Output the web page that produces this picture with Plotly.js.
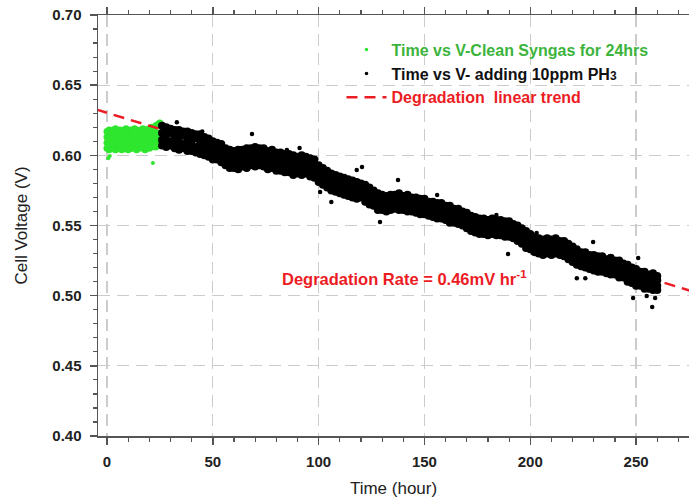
<!DOCTYPE html>
<html>
<head>
<meta charset="utf-8">
<script src="https://cdn.plot.ly/plotly-3.0.1.min.js"></script>
<style>html,body{margin:0;padding:0;background:#fff;}#chart{width:689px;height:502px;}</style>
</head>
<body>
<div id="chart"></div>
<script>
// ---- Clean syngas period (green), hours 0..26, four readings of the cloud per hour ----
const greenT = [0,1,2,3,4,5,6,7,8,9,10,11,12,13,14,15,16,17,18,19,20,21,22,23,24,25,26];
const greenLo  = [0.605,0.604,0.606,0.605,0.604,0.606,0.605,0.604,0.605,0.606,0.604,0.605,0.605,0.606,0.604,0.605,0.606,0.605,0.604,0.606,0.605,0.606,0.607,0.606,0.607,0.608,0.609];
const greenMlo = [0.609,0.610,0.608,0.609,0.610,0.609,0.608,0.610,0.609,0.609,0.610,0.608,0.609,0.610,0.609,0.608,0.609,0.610,0.609,0.609,0.610,0.610,0.611,0.610,0.611,0.612,0.612];
const greenMhi = [0.613,0.612,0.614,0.613,0.612,0.614,0.613,0.612,0.613,0.614,0.613,0.612,0.614,0.613,0.612,0.613,0.614,0.613,0.612,0.614,0.614,0.615,0.614,0.615,0.616,0.615,0.616];
const greenHi  = [0.617,0.618,0.616,0.618,0.619,0.617,0.618,0.616,0.618,0.619,0.617,0.618,0.617,0.619,0.618,0.617,0.618,0.619,0.617,0.618,0.619,0.620,0.619,0.621,0.622,0.623,0.621];
const greenOutT = [0.6, 1.3, 21.7, 24.5];
const greenOutV = [0.598, 0.5995, 0.5945, 0.624];

// ---- PH3 period (black), hours 26..260 every 2 h, four readings of the cloud ----
const blackT = [26,28,30,32,34,36,38,40,42,44,46,48,50,52,54,56,58,60,62,64,66,68,70,72,74,76,78,80,82,84,86,88,90,92,94,96,98,100,102,104,106,108,110,112,114,116,118,120,122,124,126,128,130,132,134,136,138,140,142,144,146,148,150,152,154,156,158,160,162,164,166,168,170,172,174,176,178,180,182,184,186,188,190,192,194,196,198,200,202,204,206,208,210,212,214,216,218,220,222,224,226,228,230,232,234,236,238,240,242,244,246,248,250,252,254,256,258,260];
const blackHi = [0.621,0.620,0.619,0.618,0.618,0.617,0.617,0.616,0.615,0.615,0.613,0.612,0.610,0.609,0.608,0.605,0.604,0.603,0.604,0.604,0.605,0.605,0.606,0.605,0.605,0.603,0.604,0.602,0.602,0.601,0.601,0.600,0.599,0.600,0.599,0.598,0.597,0.593,0.591,0.589,0.587,0.586,0.585,0.584,0.583,0.582,0.581,0.580,0.579,0.577,0.575,0.573,0.572,0.571,0.572,0.572,0.573,0.571,0.572,0.570,0.570,0.569,0.569,0.567,0.567,0.566,0.566,0.564,0.564,0.562,0.562,0.560,0.559,0.557,0.556,0.555,0.555,0.554,0.555,0.554,0.554,0.553,0.553,0.551,0.550,0.548,0.546,0.544,0.542,0.541,0.540,0.541,0.540,0.541,0.539,0.539,0.537,0.535,0.533,0.531,0.531,0.529,0.529,0.528,0.528,0.526,0.527,0.525,0.525,0.523,0.522,0.520,0.519,0.517,0.517,0.515,0.516,0.514];
const blackMhi = [0.616,0.615,0.616,0.614,0.613,0.614,0.612,0.611,0.612,0.610,0.609,0.607,0.606,0.605,0.603,0.601,0.600,0.599,0.599,0.600,0.600,0.601,0.601,0.601,0.600,0.599,0.599,0.598,0.597,0.597,0.596,0.595,0.595,0.595,0.595,0.594,0.592,0.589,0.587,0.585,0.583,0.582,0.581,0.580,0.579,0.578,0.577,0.577,0.575,0.573,0.571,0.569,0.568,0.568,0.568,0.569,0.569,0.568,0.568,0.567,0.566,0.566,0.565,0.564,0.563,0.563,0.562,0.561,0.560,0.559,0.558,0.557,0.555,0.553,0.552,0.552,0.551,0.551,0.551,0.551,0.550,0.550,0.549,0.548,0.546,0.544,0.542,0.540,0.538,0.537,0.537,0.537,0.537,0.537,0.536,0.535,0.533,0.531,0.529,0.528,0.527,0.526,0.525,0.525,0.524,0.523,0.523,0.522,0.521,0.520,0.518,0.516,0.515,0.514,0.513,0.512,0.512,0.511];
const blackMlo = [0.611,0.611,0.610,0.610,0.609,0.608,0.608,0.607,0.606,0.606,0.605,0.603,0.602,0.601,0.599,0.597,0.596,0.595,0.595,0.596,0.596,0.597,0.597,0.597,0.596,0.595,0.595,0.594,0.593,0.593,0.592,0.591,0.591,0.591,0.591,0.590,0.588,0.585,0.583,0.581,0.579,0.578,0.577,0.576,0.575,0.574,0.573,0.573,0.571,0.569,0.567,0.565,0.564,0.564,0.564,0.565,0.565,0.564,0.564,0.563,0.562,0.562,0.561,0.560,0.559,0.559,0.558,0.557,0.556,0.555,0.554,0.553,0.551,0.549,0.548,0.548,0.547,0.547,0.547,0.547,0.546,0.546,0.545,0.544,0.542,0.540,0.538,0.536,0.534,0.533,0.533,0.533,0.533,0.533,0.532,0.531,0.529,0.527,0.525,0.524,0.523,0.522,0.521,0.521,0.520,0.519,0.519,0.518,0.517,0.516,0.514,0.512,0.511,0.510,0.509,0.508,0.508,0.507];
const blackLo = [0.607,0.606,0.607,0.605,0.604,0.605,0.603,0.603,0.602,0.601,0.600,0.599,0.597,0.597,0.595,0.593,0.591,0.591,0.590,0.592,0.591,0.593,0.592,0.593,0.592,0.590,0.591,0.589,0.589,0.588,0.588,0.586,0.587,0.586,0.587,0.585,0.584,0.581,0.579,0.577,0.575,0.574,0.573,0.572,0.571,0.570,0.569,0.570,0.567,0.565,0.564,0.561,0.561,0.560,0.561,0.562,0.561,0.561,0.560,0.560,0.559,0.558,0.558,0.557,0.556,0.555,0.555,0.554,0.552,0.552,0.551,0.550,0.548,0.546,0.545,0.544,0.544,0.543,0.544,0.543,0.543,0.542,0.542,0.541,0.539,0.537,0.534,0.533,0.531,0.530,0.529,0.530,0.529,0.530,0.529,0.528,0.526,0.524,0.522,0.521,0.520,0.519,0.518,0.517,0.517,0.516,0.515,0.515,0.513,0.513,0.510,0.509,0.507,0.507,0.505,0.505,0.504,0.504];
const blackOutT = [33,45,68.5,85,91,100.7,106,118,120.5,129,137.5,156,184,189.5,203,222,226,229.7,248.6,251,255,257.6,259];
const blackOutV = [0.6235,0.617,0.6152,0.6038,0.6052,0.5738,0.5667,0.5895,0.5917,0.5525,0.5824,0.5717,0.5575,0.5297,0.5446,0.5125,0.5125,0.5382,0.4983,0.5268,0.4997,0.4919,0.4983];

// ---- Linear degradation trend ----
const trendSlope = -0.00046;   // V per hour (0.46 mV/hr)
const trendIntercept = 0.6303; // V at t = 0
const trendT = [-5, 280];

// ---- Text ----
const xTicks = [0, 50, 100, 150, 200, 250];
const yTicks = [0.40, 0.45, 0.50, 0.55, 0.60, 0.65, 0.70];
const nameGreen = 'Time vs V-Clean Syngas for 24hrs';
const nameBlack = 'Time vs V- adding 10ppm PH';
const nameTrend = 'Degradation&nbsp;&nbsp;linear trend';
const rateText = 'Degradation Rate = 0.46mV hr<sup>-1</sup>';

const GREEN = '#2ee62e', GREEN_TXT = '#3cb43c', RED = '#ec1c24';
const FONT = 'Liberation Sans, Arial, sans-serif';

function rows(t, arrs) { let x = [], y = []; arrs.forEach(a => { x = x.concat(t); y = y.concat(a); }); return {x, y}; }
const g = rows(greenT, [greenLo, greenMlo, greenMhi, greenHi]);
const b = rows(blackT, [blackLo, blackMlo, blackMhi, blackHi]);

const traces = [
  { x: g.x, y: g.y, mode: 'markers', type: 'scatter',
    marker: {color: GREEN, size: 7}, showlegend: false },
  { x: greenOutT, y: greenOutV, mode: 'markers', type: 'scatter',
    marker: {color: GREEN, size: 4}, showlegend: false },
  { x: trendT, y: trendT.map(t => trendIntercept + trendSlope * t), mode: 'lines',
    line: {color: RED, width: 2.5, dash: '11px,7px'}, showlegend: false, hoverinfo: 'skip' },
  { x: b.x, y: b.y, mode: 'markers', type: 'scatter',
    marker: {color: '#000', size: 8}, showlegend: false },
  { x: blackOutT, y: blackOutV, mode: 'markers', type: 'scatter',
    marker: {color: '#000', size: 4.5}, showlegend: false },
  { x: [null], y: [null], mode: 'markers', marker: {color: GREEN, size: 3.5},
    name: '<span style="color:' + GREEN_TXT + '">' + nameGreen + '</span>' },
  { x: [null], y: [null], mode: 'markers', marker: {color: '#000', size: 3.5},
    name: '<span style="color:#111">' + nameBlack + '<span style="font-size:12px">3</span></span>' },
  { x: [null], y: [null], mode: 'lines', line: {color: RED, width: 2.5, dash: '11px,7px'},
    name: '<span style="color:' + RED + '">' + nameTrend + '</span>' }
];

const axisCommon = {
  showline: true, linecolor: '#555', linewidth: 1.5,
  ticks: 'outside', ticklen: 7, tickwidth: 1.5, tickcolor: '#555',
  showgrid: true, gridcolor: '#cccccc', gridwidth: 1.3, griddash: '12px,7px',
  zeroline: false,
  tickfont: {family: FONT, size: 15, weight: 'bold', color: '#222'}
};

const layout = {
  width: 689, height: 502,
  margin: {l: 98, r: 0, t: 15, b: 66},
  paper_bgcolor: '#fff', plot_bgcolor: '#fff',
  font: {family: FONT, color: '#222'},
  xaxis: Object.assign({}, axisCommon, {
    range: [-4.25, 275], tickvals: xTicks, ticktext: xTicks.map(String),
    mirror: 'ticks', ticklabelstandoff: 4,
    minor: {dtick: 10, tick0: 0, ticks: 'outside', ticklen: 4, tickwidth: 1.2, tickcolor: '#555', showgrid: false},
    title: {text: 'Time (hour)', font: {family: FONT, size: 17, color: '#222'}, standoff: 13}
  }),
  yaxis: Object.assign({}, axisCommon, {
    range: [0.40, 0.70], tickvals: yTicks, ticktext: yTicks.map(v => v.toFixed(2)),
    ticklabelstandoff: 5,
    minor: {dtick: 0.01, tick0: 0.40, ticks: 'outside', ticklen: 4, tickwidth: 1.2, tickcolor: '#555', showgrid: false},
    title: {text: 'Cell Voltage (V)', font: {family: FONT, size: 17, color: '#222'}, standoff: 20}
  }),
  legend: {
    x: 0.412, y: 0.958, xanchor: 'left', yanchor: 'top',
    bgcolor: 'rgba(0,0,0,0)', borderwidth: 0, itemwidth: 40,
    font: {family: FONT, size: 16, weight: 'bold'}
  },
  annotations: [{
    x: 140.6, y: 0.5125, xref: 'x', yref: 'y', showarrow: false,
    text: rateText, font: {family: FONT, size: 16.5, weight: 'bold', color: RED}
  }],
  showlegend: true
};

Plotly.newPlot('chart', traces, layout, {displayModeBar: false, staticPlot: true});
</script>
</body>
</html>
